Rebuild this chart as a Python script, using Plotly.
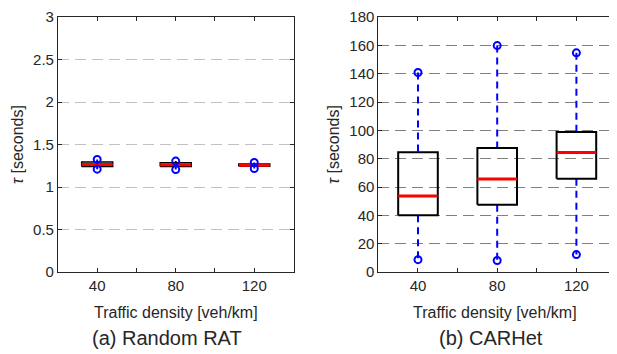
import plotly.graph_objects as go

# ---------------- data ----------------
densities = [40, 80, 120]
tick_vals_x = [40, 60, 80, 100, 120]
tick_text_x = ["40", "", "80", "", "120"]

# (a) Random RAT
rat_lower = [1.21, 1.205, 1.218]
rat_q1 = [1.24, 1.24, 1.245]
rat_median = [1.265, 1.262, 1.256]
rat_q3 = [1.295, 1.285, 1.27]
rat_upper = [1.325, 1.305, 1.288]
rat_yticks = [0, 0.5, 1, 1.5, 2, 2.5, 3]
rat_yticktext = ["0", "0.5", "1", "1.5", "2", "2.5", "3"]

# (b) CARHet
car_lower = [8.7, 8.1, 12.3]
car_q1 = [40, 47.4, 65.8]
car_median = [53.6, 65.6, 84.3]
car_q3 = [84.6, 87.6, 98.9]
car_upper = [140.8, 159.8, 154.7]
car_yticks = list(range(0, 181, 20))

FONT = "Liberation Sans, Arial, sans-serif"
TXT = "#262626"
BLUE = "#0000ff"
RED = "#ff0000"

# page body has an 8px margin -> shift the figure so it lines up with the window
OFF = 8
W, H = 617 - OFF, 354 - OFF
PLOT_TOP, PLOT_BOT = 14 - OFF, 272 - OFF
MT, MB = PLOT_TOP, H - PLOT_BOT
PH = PLOT_BOT - PLOT_TOP


def fx(pix):
    return (pix - OFF) / W


def fy(pix):
    return (PLOT_BOT - (pix - OFF)) / PH


def box_traces(xs, lo, q1, med, q3, hi, half, xa, ya, box_w):
    tr = []
    wx, wy = [], []
    for x, a, b, c, d in zip(xs, lo, q1, q3, hi):
        wx += [x, x, None, x, x, None]
        wy += [d, c, None, b, a, None]
    tr.append(go.Scatter(x=wx, y=wy, mode="lines", xaxis=xa, yaxis=ya,
                         line=dict(color=BLUE, width=2, dash="7px,5px"),
                         hoverinfo="skip", showlegend=False))
    bx, by = [], []
    for x, b, c in zip(xs, q1, q3):
        bx += [x - half, x + half, x + half, x - half, x - half, None]
        by += [b, b, c, c, b, None]
    tr.append(go.Scatter(x=bx, y=by, mode="lines", xaxis=xa, yaxis=ya,
                         line=dict(color="black", width=box_w),
                         hoverinfo="skip", showlegend=False))
    mx, my = [], []
    for x, m in zip(xs, med):
        mx += [x - half, x + half, None]
        my += [m, m, None]
    tr.append(go.Scatter(x=mx, y=my, mode="lines", xaxis=xa, yaxis=ya,
                         line=dict(color=RED, width=3),
                         hoverinfo="skip", showlegend=False))
    tr.append(go.Scatter(x=list(xs) + list(xs), y=list(lo) + list(hi),
                         mode="markers", xaxis=xa, yaxis=ya,
                         marker=dict(symbol="circle-open", size=7, color=BLUE,
                                     line=dict(width=2, color=BLUE)),
                         hoverinfo="skip", showlegend=False))
    return tr


fig = go.Figure()
for t in box_traces(densities, rat_lower, rat_q1, rat_median, rat_q3, rat_upper,
                    7.9, "x", "y", 1.5):
    fig.add_trace(t)
for t in box_traces(densities, car_lower, car_q1, car_median, car_q3, car_upper,
                    10, "x2", "y2", 2):
    fig.add_trace(t)

xcommon = dict(range=[20, 140], tickvals=tick_vals_x, ticktext=tick_text_x,
               ticks="inside", ticklen=4, tickcolor=TXT, showline=True,
               linecolor=TXT, linewidth=1, mirror="ticks", showgrid=False,
               zeroline=False, ticklabeloverflow="allow",
               tickfont=dict(family=FONT, size=15, color=TXT))
ycommon = dict(ticks="inside", ticklen=4, tickcolor=TXT, showline=True,
               linecolor=TXT, linewidth=1, mirror="ticks", showgrid=True,
               gridwidth=1, griddash="11px,6px", zeroline=False,
               ticklabeloverflow="allow",
               tickfont=dict(family=FONT, size=15, color=TXT))

fig.update_layout(
    width=W, height=H,
    margin=dict(l=0, r=0, t=MT, b=MB, pad=0),
    paper_bgcolor="white", plot_bgcolor="white",
    showlegend=False,
    xaxis=dict(domain=[fx(58), fx(294)], anchor="y", **xcommon),
    xaxis2=dict(domain=[fx(379), 1.0], anchor="y2", **xcommon),
    yaxis=dict(domain=[0, 1], anchor="x", range=[0, 3], tickvals=rat_yticks,
               ticktext=rat_yticktext, gridcolor="#c0c0c0", **ycommon),
    yaxis2=dict(domain=[0, 1], anchor="x2", range=[0, 180], tickvals=car_yticks,
                gridcolor="#808080", **ycommon),
)

ann = [
    dict(text="<i>τ</i> [seconds]", x=fx(17.5), y=fy(143), textangle=-90,
         font=dict(size=16)),
    dict(text="<i>τ</i> [seconds]", x=fx(334), y=fy(143), textangle=-90,
         font=dict(size=16)),
    dict(text="Traffic density [veh/km]", x=fx(176.5), y=fy(313),
         font=dict(size=16)),
    dict(text="Traffic density [veh/km]", x=fx(496), y=fy(313),
         font=dict(size=16)),
    dict(text="(a) Random RAT", x=fx(167), y=fy(339), font=dict(size=20)),
    dict(text="(b) CARHet", x=fx(492), y=fy(339), font=dict(size=20)),
]
for a in ann:
    a.update(xref="paper", yref="paper", showarrow=False,
             xanchor="center", yanchor="middle", borderpad=0)
    a["font"].update(family=FONT, color=TXT)
fig.update_layout(annotations=ann)

fig.write_html("out.html")
